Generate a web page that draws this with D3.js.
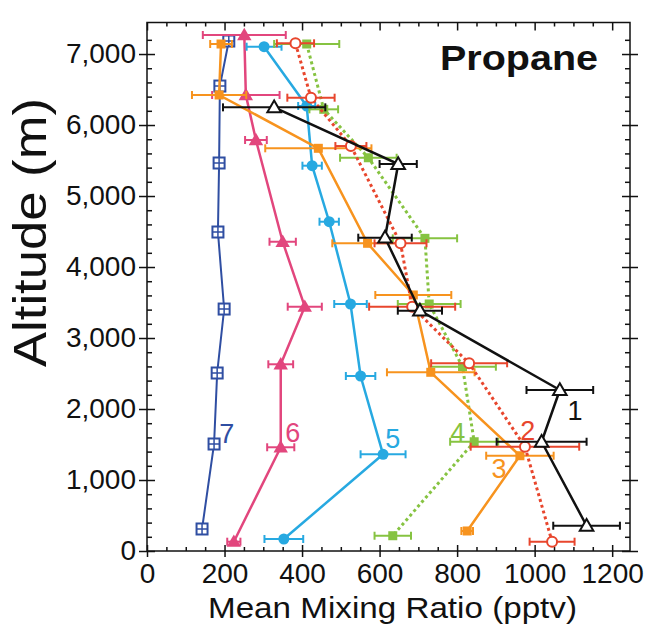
<!DOCTYPE html>
<html>
<head>
<meta charset="utf-8">
<script src="https://cdn.jsdelivr.net/npm/d3@7"></script>
<style>
  body { margin: 0; background: #fff; }
  svg { font-family: "Liberation Sans", Arial, sans-serif; }
</style>
</head>
<body>
<div id="chart"></div>
<script>
// Propane vertical profiles, mean mixing ratio (pptv) vs altitude (m)

// profile 1 (black, open triangles)
const alt1 = [6249, 5451, 4413, 3385, 2268, 1539, 356];
const val1 = [328, 648, 614, 704, 1065, 1018, 1134];
const err1 = [132, 48, 69, 57, 86, 116, 86];

// profile 2 (red, open circles, dotted)
const alt2 = [7151, 6385, 5704, 4334, 3441, 2644, 1469, 131];
const val2 = [383, 423, 526, 654, 684, 831, 975, 1045];
const err2 = [48, 61, 40, 67, 111, 98, 140, 58];

// profile 3 (orange, squares)
const alt3 = [7141, 6423, 5672, 4334, 3606, 2517, 1342, 282];
const val3 = [191, 186, 442, 569, 687, 732, 962, 826];
const err3 = [28, 70, 137, 91, 98, 113, 87, 15];

// profile 4 (green, squares, dotted)
const alt4 = [7141, 6221, 5539, 4404, 3479, 2596, 1539, 215];
const val4 = [412, 456, 571, 717, 728, 814, 844, 634];
const err4 = [84, 37, 73, 83, 81, 86, 62, 47];

// profile 5 (light blue, dots)
const alt5 = [7103, 6268, 5427, 4638, 3479, 2465, 1362, 169];
const val5 = [302, 412, 426, 470, 525, 551, 609, 353];
const err5 = [45, 22, 25, 25, 42, 38, 58, 50];

// profile 6 (pink, filled triangles)
const alt6 = [7268, 6423, 5789, 4356, 3441, 2630, 1461, 131];
const val6 = [251, 255, 281, 350, 407, 345, 345, 224];
const err6 = [107, 87, 28, 34, 44, 32, 35, 17];

// profile 7 (dark blue, crossed squares)
const alt7 = [7183, 6549, 5465, 4493, 3408, 2507, 1507, 310];
const val7 = [211, 188, 186, 183, 199, 181, 173, 142];
const err7 = [6, 6, 6, 6, 6, 6, 6, 6];

const xTicks = [0, 200, 400, 600, 800, 1000, 1200];
const yTicks = [0, 1000, 2000, 3000, 4000, 5000, 6000, 7000];

// label anchor for each profile number (value, altitude)
const labelVal = [1104, 982, 908, 802, 634, 376, 206];
const labelAlt = [1986, 1704, 1169, 1676, 1592, 1676, 1662];

const series = [
  { id: "7", color: "#2f4ea2", alt: alt7, val: val7, err: err7, marker: "xsquare", dash: null, width: 2 },
  { id: "6", color: "#e2467d", alt: alt6, val: val6, err: err6, marker: "tri", dash: null, width: 2.5 },
  { id: "5", color: "#27a9e1", alt: alt5, val: val5, err: err5, marker: "dot", dash: null, width: 2.5 },
  { id: "4", color: "#86c341", alt: alt4, val: val4, err: err4, marker: "square", dash: "3,3", width: 3 },
  { id: "3", color: "#f7931e", alt: alt3, val: val3, err: err3, marker: "square", dash: null, width: 2.5 },
  { id: "2", color: "#e8462d", alt: alt2, val: val2, err: err2, marker: "ocircle", dash: "3,3", width: 3 },
  { id: "1", color: "#111111", alt: alt1, val: val1, err: err1, marker: "otri", dash: null, width: 2.5 }
];

const width = 650;
const height = 629;

const svg = d3.select("#chart")
  .append("svg")
  .attr("width", width)
  .attr("height", height);

const x = d3.scaleLinear().domain([0, 1246]).range([147, 630]);
const y = d3.scaleLinear().domain([0, 7444]).range([551, 22.5]);

const xMinor = d3.range(0, 1250, 50).filter(v => v % 200 !== 0);
const yMinor = d3.range(0, 7400, 200).filter(v => v % 1000 !== 0);

// frame
svg.append("rect")
  .attr("x", x.range()[0])
  .attr("y", y.range()[1])
  .attr("width", x.range()[1] - x.range()[0])
  .attr("height", y.range()[0] - y.range()[1])
  .style("fill", "none")
  .style("stroke", "#111")
  .style("stroke-width", 1.5);

function styleAxis(g) {
  g.select(".domain").remove();
  g.selectAll("line").style("stroke", "#111").style("stroke-width", 1.5);
}

// bottom axis with labels
svg.append("g")
  .attr("transform", `translate(0, ${y(0)})`)
  .call(d3.axisBottom(x).tickValues(xTicks).tickSize(6).tickPadding(6).tickFormat(d3.format("d")))
  .call(styleAxis)
  .call(g => g.selectAll("text")
    .style("font-size", "28px")
    .style("fill", "#111")
    .attr("font-family", "Liberation Sans, Arial, sans-serif"));

svg.append("g")
  .attr("transform", `translate(0, ${y(0)})`)
  .call(d3.axisBottom(x).tickValues(xTicks).tickSize(-6).tickFormat(""))
  .call(styleAxis);

svg.append("g")
  .attr("transform", `translate(0, ${y(0)})`)
  .call(d3.axisBottom(x).tickValues(xMinor).tickSize(-4).tickFormat(""))
  .call(styleAxis);

// top axis
svg.append("g")
  .attr("transform", `translate(0, ${y.range()[1]})`)
  .call(d3.axisTop(x).tickValues(xTicks).tickSize(-8).tickFormat(""))
  .call(styleAxis);

svg.append("g")
  .attr("transform", `translate(0, ${y.range()[1]})`)
  .call(d3.axisTop(x).tickValues(xMinor).tickSize(-4).tickFormat(""))
  .call(styleAxis);

// left axis with labels
svg.append("g")
  .attr("transform", `translate(${x(0)}, 0)`)
  .call(d3.axisLeft(y).tickValues(yTicks).tickSize(8).tickPadding(3).tickFormat(d3.format(",")))
  .call(styleAxis)
  .call(g => g.selectAll("text")
    .style("font-size", "28px")
    .style("fill", "#111"));

svg.append("g")
  .attr("transform", `translate(${x(0)}, 0)`)
  .call(d3.axisLeft(y).tickValues(yTicks).tickSize(-8).tickFormat(""))
  .call(styleAxis);

svg.append("g")
  .attr("transform", `translate(${x(0)}, 0)`)
  .call(d3.axisLeft(y).tickValues(yMinor).tickSize(-5).tickFormat(""))
  .call(styleAxis);

// right axis
svg.append("g")
  .attr("transform", `translate(${x.range()[1]}, 0)`)
  .call(d3.axisRight(y).tickValues(yTicks).tickSize(8).tickFormat(""))
  .call(styleAxis);

svg.append("g")
  .attr("transform", `translate(${x.range()[1]}, 0)`)
  .call(d3.axisRight(y).tickValues(yTicks).tickSize(-8).tickFormat(""))
  .call(styleAxis);

svg.append("g")
  .attr("transform", `translate(${x.range()[1]}, 0)`)
  .call(d3.axisRight(y).tickValues(yMinor).tickSize(-5).tickFormat(""))
  .call(styleAxis);

// axis titles
svg.append("text")
  .attr("x", 392.5)
  .attr("y", 618)
  .attr("text-anchor", "middle")
  .attr("textLength", 369)
  .attr("lengthAdjust", "spacingAndGlyphs")
  .style("font-size", "29px")
  .style("fill", "#111")
  .text("Mean Mixing Ratio (pptv)");

svg.append("text")
  .attr("transform", "translate(46, 232.5) rotate(-90)")
  .attr("text-anchor", "middle")
  .attr("textLength", 269)
  .attr("lengthAdjust", "spacingAndGlyphs")
  .style("font-size", "46px")
  .style("fill", "#111")
  .text("Altitude (m)");

svg.append("text")
  .attr("x", 598)
  .attr("y", 70)
  .attr("text-anchor", "end")
  .attr("textLength", 158)
  .attr("lengthAdjust", "spacingAndGlyphs")
  .style("font-size", "35px")
  .style("font-weight", "bold")
  .style("fill", "#111")
  .text("Propane");

// profiles
const line = d3.line()
  .x(d => x(d.v))
  .y(d => y(d.a));

const triUp = d3.symbol().type(d3.symbolTriangle);

series.forEach(s => {

  const pts = s.alt.map((a, i) => ({ a: a, v: s.val[i], e: s.err[i] }));
  const g = svg.append("g").attr("class", "profile-" + s.id);

  // error bars
  const eb = g.selectAll(".err")
    .data(pts)
    .enter()
    .append("g")
    .attr("class", "err")
    .style("stroke", s.color)
    .style("stroke-width", 2);

  eb.append("line")
    .attr("x1", d => x(d.v - d.e))
    .attr("x2", d => x(d.v + d.e))
    .attr("y1", d => y(d.a))
    .attr("y2", d => y(d.a));

  eb.append("line")
    .attr("x1", d => x(d.v - d.e))
    .attr("x2", d => x(d.v - d.e))
    .attr("y1", d => y(d.a) - 4)
    .attr("y2", d => y(d.a) + 4);

  eb.append("line")
    .attr("x1", d => x(d.v + d.e))
    .attr("x2", d => x(d.v + d.e))
    .attr("y1", d => y(d.a) - 4)
    .attr("y2", d => y(d.a) + 4);

  // profile line
  g.append("path")
    .datum(pts)
    .attr("d", line)
    .style("fill", "none")
    .style("stroke", s.color)
    .style("stroke-width", s.width)
    .style("stroke-dasharray", s.dash);

  // markers
  const m = g.selectAll(".mk")
    .data(pts)
    .enter()
    .append("g")
    .attr("class", "mk")
    .attr("transform", d => `translate(${x(d.v)}, ${y(d.a)})`);

  if (s.marker === "xsquare") {
    m.append("rect")
      .attr("x", -5.5).attr("y", -5.5)
      .attr("width", 11).attr("height", 11)
      .style("fill", "#fff")
      .style("stroke", s.color)
      .style("stroke-width", 2);
    m.append("path")
      .attr("d", "M-5.5,0H5.5M0,-5.5V5.5")
      .style("stroke", s.color)
      .style("stroke-width", 1.5);
  } else if (s.marker === "tri") {
    m.append("path")
      .attr("d", triUp.size(90)())
      .attr("transform", "translate(0,1)")
      .style("fill", s.color);
  } else if (s.marker === "otri") {
    m.append("path")
      .attr("d", triUp.size(80)())
      .attr("transform", "translate(0,1)")
      .style("fill", "#fff")
      .style("stroke", s.color)
      .style("stroke-width", 2);
  } else if (s.marker === "dot") {
    m.append("circle")
      .attr("r", 5.5)
      .style("fill", s.color);
  } else if (s.marker === "square") {
    m.append("rect")
      .attr("x", -4.5).attr("y", -4.5)
      .attr("width", 9).attr("height", 9)
      .style("fill", s.color);
  } else if (s.marker === "ocircle") {
    m.append("circle")
      .attr("r", 5)
      .style("fill", "#fff")
      .style("stroke", s.color)
      .style("stroke-width", 2);
  }
});

// profile numbers
const labelIds = ["1", "2", "3", "4", "5", "6", "7"];
labelIds.forEach((id, i) => {
  const s = series.find(t => t.id === id);
  svg.append("text")
    .attr("x", x(labelVal[i]))
    .attr("y", y(labelAlt[i]))
    .attr("text-anchor", "middle")
    .attr("dy", "0.36em")
    .style("font-size", "27px")
    .style("fill", s.color)
    .text(id);
});
</script>
</body>
</html>
